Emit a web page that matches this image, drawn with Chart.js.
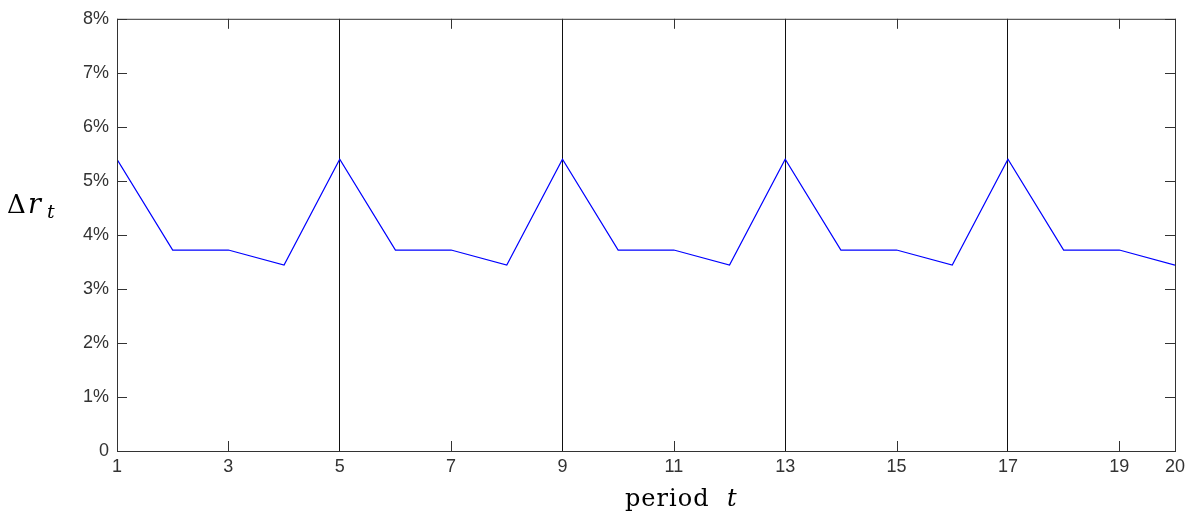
<!DOCTYPE html>
<html>
<head>
<meta charset="utf-8">
<script src="https://cdn.jsdelivr.net/npm/chart.js@4.4.0/dist/chart.umd.min.js"></script>
<style>
  body { margin: 0; background: #fff; }
  #wrap { width: 1195px; height: 514px; position: relative; }
</style>
</head>
<body>
<div id="wrap"><canvas id="myChart" width="1195" height="514"></canvas></div>
<script>
var periods = [1, 2, 3, 4, 5, 6, 7, 8, 9, 10, 11, 12, 13, 14, 15, 16, 17, 18, 19, 20];
var deltaR = [5.4, 3.72, 3.72, 3.44, 5.4, 3.72, 3.72, 3.44, 5.4, 3.72, 3.72, 3.44,
              5.4, 3.72, 3.72, 3.44, 5.4, 3.72, 3.72, 3.44];
var xTicks = [1, 3, 5, 7, 9, 11, 13, 15, 17, 19, 20];
var yTicks = [0, 1, 2, 3, 4, 5, 6, 7, 8];
var markLines = [5, 9, 13, 17];

var points = periods.map(function (p, i) { return { x: p, y: deltaR[i] }; });

// box, inward ticks on all four sides, and axis titles
var boxPlugin = {
  id: 'box',
  afterDraw: function (chart) {
    var ctx = chart.ctx, a = chart.chartArea;
    var xs = chart.scales.x, ys = chart.scales.y;
    ctx.save();
    ctx.strokeStyle = '#333';
    ctx.lineWidth = 1;
    ctx.strokeRect(a.left + 0.5, a.top + 0.5, a.right - a.left, a.bottom - a.top);
    ctx.beginPath();
    xTicks.forEach(function (v) {
      if (markLines.indexOf(v) >= 0) return;
      var px = Math.round(xs.getPixelForValue(v)) + 0.5;
      ctx.moveTo(px, a.bottom); ctx.lineTo(px, a.bottom - 10);
      ctx.moveTo(px, a.top); ctx.lineTo(px, a.top + 10);
    });
    yTicks.forEach(function (v) {
      var py = Math.round(ys.getPixelForValue(v)) + 0.5;
      ctx.moveTo(a.left, py); ctx.lineTo(a.left + 10, py);
      ctx.moveTo(a.right, py); ctx.lineTo(a.right - 10, py);
    });
    ctx.stroke();

    // y title: Δr_t
    ctx.fillStyle = '#000';
    ctx.textBaseline = 'alphabetic';
    ctx.font = '26px "DejaVu Serif", serif';
    ctx.fillText('\u0394', 7, 213);
    ctx.font = 'italic 27px "DejaVu Serif", serif';
    ctx.fillText('r', 28, 213);
    ctx.font = 'italic 19px "DejaVu Serif", serif';
    ctx.fillText('t', 47, 218);

    // x title: period t
    ctx.letterSpacing = '1px';
    ctx.font = '24px "DejaVu Serif", serif';
    ctx.fillText('period', 625, 506);
    ctx.letterSpacing = '0px';
    ctx.font = 'italic 24px "DejaVu Serif", serif';
    ctx.fillText('t', 727, 506);
    ctx.restore();
  }
};

var ctx = document.getElementById('myChart').getContext('2d');
var myChart = new Chart(ctx, {
  type: 'line',
  data: {
    datasets: [{
      data: points,
      borderColor: '#0000ff',
      borderWidth: 1.2,
      pointRadius: 0,
      tension: 0,
      fill: false
    }]
  },
  options: {
    responsive: false,
    maintainAspectRatio: false,
    animation: false,
    devicePixelRatio: 1,
    layout: { padding: { top: 18, right: 20, left: 0, bottom: 0 } },
    plugins: { legend: { display: false }, tooltip: { enabled: false } },
    scales: {
      x: {
        type: 'linear',
        min: 1,
        max: 20,
        afterBuildTicks: function (scale) {
          scale.ticks = xTicks.map(function (v) { return { value: v }; });
        },
        afterFit: function (scale) { scale.height = 63; },
        border: { display: false },
        grid: {
          drawTicks: false,
          lineWidth: 1,
          color: function (c) {
            return markLines.indexOf(c.tick.value) >= 0 ? '#111' : 'rgba(0,0,0,0)';
          }
        },
        ticks: {
          padding: 5,
          maxRotation: 0,
          autoSkip: false,
          color: '#333',
          font: { family: '"Liberation Sans", Arial', size: 18 },
          callback: function (v) { return v; }
        }
      },
      y: {
        min: 0,
        max: 8,
        afterBuildTicks: function (scale) {
          scale.ticks = yTicks.map(function (v) { return { value: v }; });
        },
        afterFit: function (scale) { scale.width = 117; },
        border: { display: false },
        grid: { display: false, drawTicks: false },
        ticks: {
          padding: 8,
          autoSkip: false,
          color: '#333',
          font: { family: '"Liberation Sans", Arial', size: 18 },
          callback: function (v) { return v === 0 ? '0' : v + '%'; }
        }
      }
    }
  },
  plugins: [boxPlugin]
});
</script>
</body>
</html>
